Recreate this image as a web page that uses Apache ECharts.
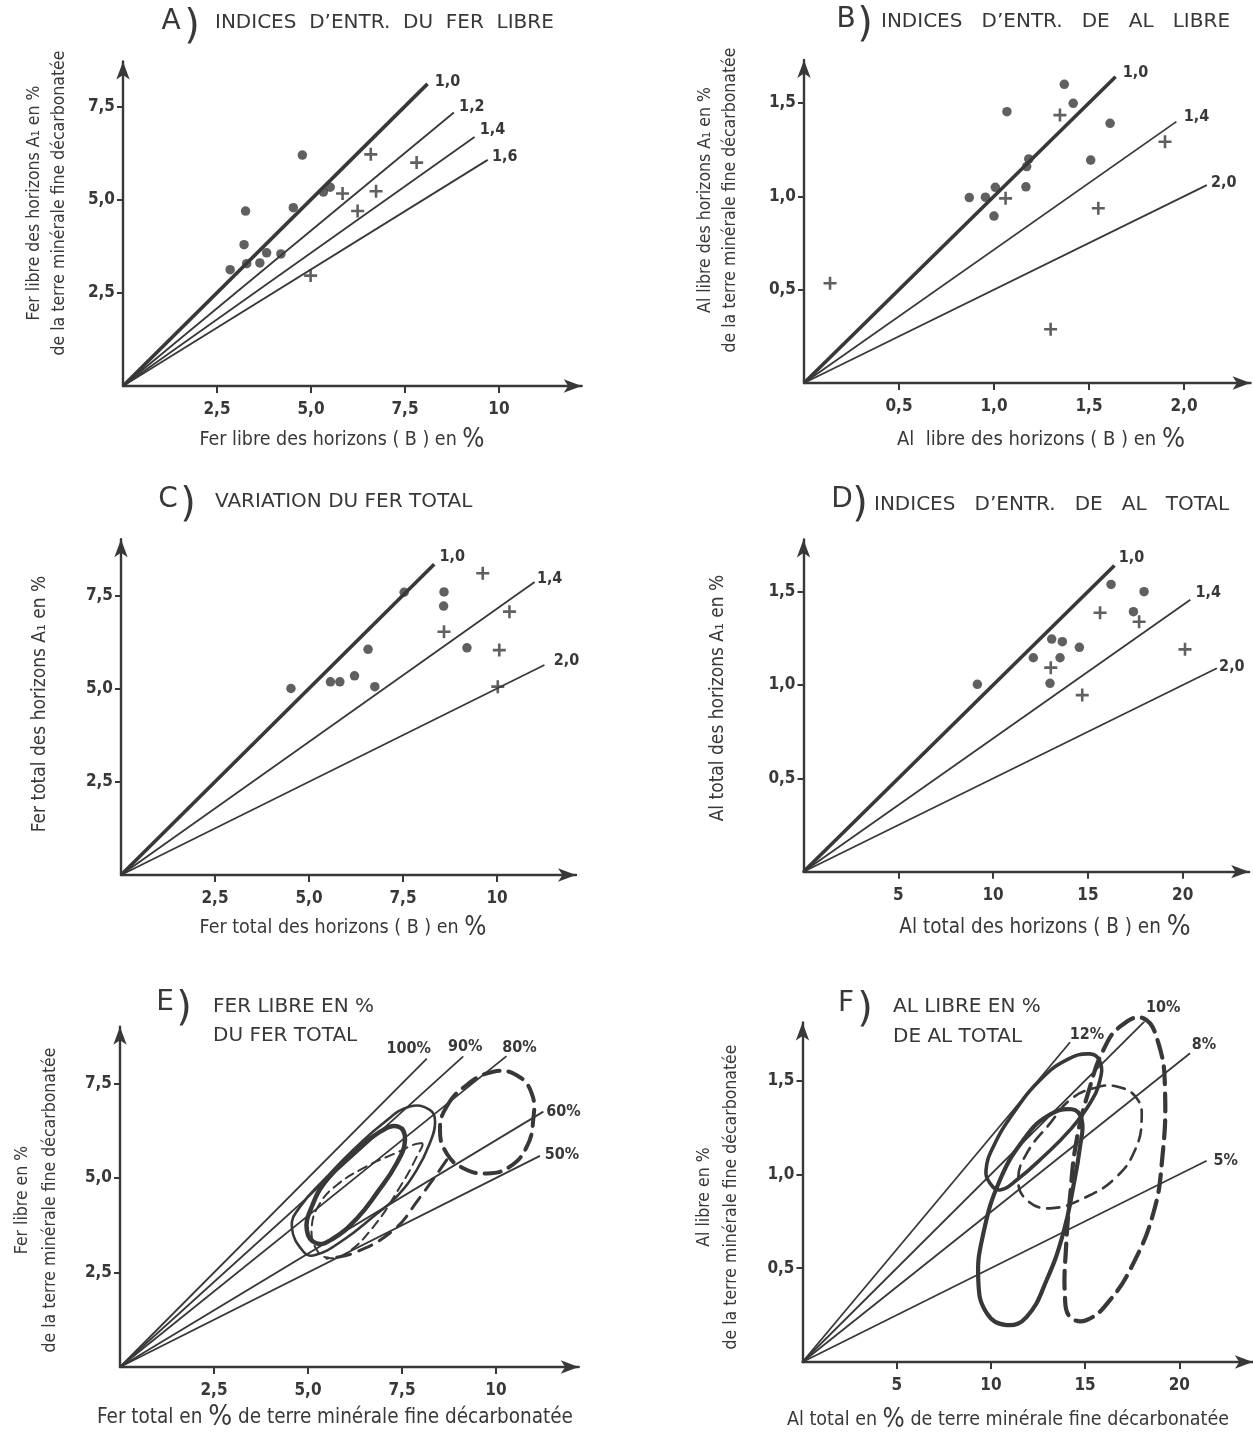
<!DOCTYPE html>
<html>
<head>
<meta charset="utf-8">
<title>Indices d'entraînement du fer et de l'aluminium</title>
<script src="https://cdn.jsdelivr.net/npm/echarts@6/dist/echarts.min.js"></script>
<style>
  html, body { margin: 0; padding: 0; background: #ffffff; }
  #chart { width: 1253px; height: 1435px; }
</style>
</head>
<body>
<div id="chart"></div>
<script>
// ---------- A) free iron: horizon (B) vs horizon A1 ----------
const A_dots = [[2.85,3.12],[3.22,3.79],[3.26,4.69],[3.29,3.28],[3.64,3.30],[3.82,3.57],[4.20,3.54],[4.53,4.78],[4.77,6.19],[5.33,5.20],[5.51,5.33]];
const A_crosses = [[5.84,5.16],[6.59,6.21],[6.73,5.22],[6.24,4.69],[7.81,5.99],[4.99,2.96]];
const A_indices = [1.0, 1.2, 1.4, 1.6];
const A_indexLabels = ['1,0', '1,2', '1,4', '1,6'];
const A_lineEndX = [8.1, 8.8, 9.35, 9.7];

// ---------- B) free aluminium ----------
const B_dots = [[0.870,0.993],[0.955,0.995],[1.007,1.048],[1.000,0.894],[1.068,1.453],[1.168,1.051],[1.183,1.200],[1.172,1.159],[1.370,1.600],[1.417,1.498],[1.509,1.194],[1.611,1.391]];
const B_crosses = [[1.347,1.435],[1.061,0.989],[1.549,0.936],[1.900,1.292],[0.137,0.534],[1.298,0.288]];
const B_indices = [1.0, 1.4, 2.0];
const B_indexLabels = ['1,0', '1,4', '2,0'];
const B_lineEndX = [1.64, 1.96, 2.12];

// ---------- C) total iron ----------
const C_dots = [[4.52,5.00],[5.57,5.18],[5.82,5.18],[6.21,5.34],[6.57,6.05],[6.75,5.05],[7.53,7.58],[8.59,7.59],[8.58,7.21],[9.20,6.09]];
const C_crosses = [[9.62,8.09],[8.59,6.52],[10.33,7.06],[10.06,6.03],[10.02,5.05]];
const C_indices = [1.0, 1.4, 2.0];
const C_indexLabels = ['1,0', '1,4', '2,0'];
const C_lineEndX = [8.33, 11.0, 11.26];

// ---------- D) total aluminium ----------
const D_dots = [[9.17,1.004],[12.12,1.146],[13.09,1.246],[13.65,1.232],[13.53,1.146],[13.00,1.009],[14.55,1.202],[16.22,1.539],[17.40,1.393],[17.96,1.500]];
const D_crosses = [[13.04,1.093],[15.64,1.387],[17.70,1.339],[14.70,0.946],[20.12,1.191]];
const D_indices = [1.0, 1.4, 2.0];
const D_indexLabels = ['1,0', '1,4', '2,0'];
const D_lineEndX = [16.4, 20.4, 21.8];

// ---------- E) free iron as % of total iron ----------
const E_percents = [100, 90, 80, 60, 50];
const E_percentLabels = ['100%', '90%', '80%', '60%', '50%'];
const E_lineEndX = [8.16, 9.13, 10.28, 11.26, 11.17];
const E_solidThick = [[7.40,6.36],[7.58,6.01],[7.36,5.39],[6.83,4.60],[6.30,3.93],[5.67,3.40],[5.23,3.27],[4.97,3.62],[5.10,4.24],[5.50,4.95],[6.20,5.65],[6.91,6.22]];
const E_solidThin = [[7.71,6.89],[8.24,6.80],[8.38,6.49],[8.24,5.92],[7.89,5.21],[7.36,4.51],[6.74,3.98],[5.94,3.36],[5.19,2.96],[4.88,3.05],[4.57,3.71],[4.79,4.24],[5.50,5.03],[6.20,5.74],[7.00,6.45]];
const E_dashedInner = [[8.02,5.92],[7.27,5.63],[6.47,5.26],[5.76,4.81],[5.32,4.33],[5.10,3.71],[5.23,3.10],[5.59,2.88],[6.03,3.01],[6.74,3.71],[7.45,4.77],[7.89,5.56]];
const E_dashedRing = [[8.69,6.89],[9.22,7.46],[9.93,7.81],[10.55,7.72],[10.95,7.24],[10.99,6.53],[10.82,5.83],[10.37,5.30],[9.75,5.12],[9.13,5.26],[8.69,5.65],[8.51,6.27]];
const E_dashedTail = [[8.69,5.48],[7.95,4.45],[7.27,3.62],[6.20,3.01],[5.50,2.88]];

// ---------- F) free aluminium as % of total aluminium ----------
const F_percents = [12, 10, 8, 5];
const F_percentLabels = ['12%', '10%', '8%', '5%'];
const F_lineEndX = [14.2, 18.35, 20.57, 21.45];
const F_solidUpper = [[9.74,1.023],[10.13,1.148],[11.19,1.326],[12.61,1.503],[14.02,1.610],[15.26,1.642],[15.79,1.601],[15.79,1.503],[15.26,1.379],[14.20,1.237],[12.78,1.094],[11.37,0.970],[10.48,0.917],[9.95,0.953]];
const F_solidLower = [[14.29,1.347],[14.82,1.290],[14.73,1.148],[14.37,0.934],[13.84,0.686],[12.96,0.437],[11.90,0.241],[10.84,0.197],[9.78,0.260],[9.33,0.437],[9.60,0.686],[10.48,0.970],[11.72,1.183],[12.96,1.308]];
const F_dashedMid = [[15.44,1.459],[16.68,1.468],[17.74,1.406],[18.00,1.290],[17.65,1.130],[16.68,0.988],[15.09,0.881],[13.14,0.819],[11.90,0.864],[11.45,0.970],[11.90,1.112],[13.14,1.272],[14.20,1.397]];
const F_dashedTall = [[18.09,1.832],[18.89,1.699],[19.24,1.450],[19.07,1.059],[18.62,0.793],[17.56,0.526],[16.32,0.330],[15.09,0.224],[14.20,0.241],[13.93,0.348],[13.99,0.615],[14.20,0.881],[14.55,1.183],[15.26,1.468],[15.97,1.663],[16.85,1.787]];

// ---------- tick values and labels ----------
const ticksFer = [2.5, 5, 7.5, 10];
const labelsFerX = ['2,5', '5,0', '7,5', '10'];
const ticksFerY = [2.5, 5, 7.5];
const labelsFerY = ['2,5', '5,0', '7,5'];
const ticksAlLibreX = [0.5, 1, 1.5, 2];
const labelsAlLibreX = ['0,5', '1,0', '1,5', '2,0'];
const ticksAlY = [0.5, 1, 1.5];
const labelsAlY = ['0,5', '1,0', '1,5'];
const ticksAlTotalX = [5, 10, 15, 20];
const labelsAlTotalX = ['5', '10', '15', '20'];

// ---------- drawing ----------
const INK = '#383838';
const FONT = 'DejaVu Sans Condensed';
const TITLE_FONT = 'DejaVu Sans';

// slope of each reference line through the origin
const byIndex = r => 1 / r;
const byIndexTenth = r => 1 / (10 * r);
const byPercent = p => p / 100;

const panels = [
  { box: [123, 61.5, 458.7, 324.5], xMax: 12.2, yMax: 8.7,
    xTicks: ticksFer, xLabels: labelsFerX, yTicks: ticksFerY, yLabels: labelsFerY,
    dots: A_dots, crosses: A_crosses, keys: A_indices, keyLabels: A_indexLabels, ends: A_lineEndX,
    slope: byIndex, boldFirst: true,
    labelOffsets: [[20,-2],[18,-6],[18,-7],[17,-3]] },
  { box: [804, 60, 446.5, 323], xMax: 2.35, yMax: 1.73,
    xTicks: ticksAlLibreX, xLabels: labelsAlLibreX, yTicks: ticksAlY, yLabels: labelsAlY,
    dots: B_dots, crosses: B_crosses, keys: B_indices, keyLabels: B_indexLabels, ends: B_lineEndX,
    slope: byIndex, boldFirst: true,
    labelOffsets: [[20,-4],[20,-5],[17,-2]] },
  { box: [121, 539.3, 455, 335.7], xMax: 12.1, yMax: 9.0,
    xTicks: ticksFer, xLabels: labelsFerX, yTicks: ticksFerY, yLabels: labelsFerY,
    dots: C_dots, crosses: C_crosses, keys: C_indices, keyLabels: C_indexLabels, ends: C_lineEndX,
    slope: byIndex, boldFirst: true,
    labelOffsets: [[18,-7],[15,-3],[22,-4]] },
  { box: [803.5, 539.4, 445.6, 332.3], xMax: 23.5, yMax: 1.78,
    xTicks: ticksAlTotalX, xLabels: labelsAlTotalX, yTicks: ticksAlY, yLabels: labelsAlY,
    dots: D_dots, crosses: D_crosses, keys: D_indices, keyLabels: D_indexLabels, ends: D_lineEndX,
    slope: byIndexTenth, boldFirst: true,
    labelOffsets: [[17,-8],[18,-7],[15,-1]] },
  { box: [120, 1026.8, 458.7, 340.2], xMax: 12.2, yMax: 9.0,
    xTicks: ticksFer, xLabels: labelsFerX, yTicks: ticksFerY, yLabels: labelsFerY,
    keys: E_percents, keyLabels: E_percentLabels, ends: E_lineEndX,
    slope: byPercent, boldFirst: false,
    labelOffsets: [[-18,-10],[2,-10],[13,-8],[20,0],[22,-1]],
    outlines: [
      { pts: E_solidThick, width: 4.5, dash: null, closed: true },
      { pts: E_solidThin, width: 2.6, dash: null, closed: true },
      { pts: E_dashedInner, width: 2, dash: [9, 6], closed: true },
      { pts: E_dashedRing, width: 4, dash: [16, 9], closed: true },
      { pts: E_dashedTail, width: 3, dash: [14, 9], closed: false }
    ] },
  { box: [802.5, 1022.4, 450.3, 339.6], xMax: 23.9, yMax: 1.81,
    xTicks: ticksAlTotalX, xLabels: labelsAlTotalX, yTicks: ticksAlY, yLabels: labelsAlY,
    keys: F_percents, keyLabels: F_percentLabels, ends: F_lineEndX,
    slope: byPercent, boldFirst: false,
    labelOffsets: [[17,-7],[15,-10],[14,-8],[19,0]],
    outlines: [
      { pts: F_solidUpper, width: 3.6, dash: null, closed: true },
      { pts: F_solidLower, width: 4.2, dash: null, closed: true },
      { pts: F_dashedMid, width: 2.6, dash: [12, 8], closed: true },
      { pts: F_dashedTall, width: 4.2, dash: [18, 9], closed: true }
    ] }
];

function tickFormatter(ticks, labels) {
  return v => {
    const k = ticks.findIndex(t => Math.abs(t - v) < 1e-6);
    return k < 0 ? '' : labels[k];
  };
}

const CROSS = 'path://M4,0H6V10H4Z M0,4H10V6H0Z';
const grids = [], xAxes = [], yAxes = [], series = [];

panels.forEach((p, i) => {
  grids.push({ left: p.box[0], top: p.box[1], width: p.box[2], height: p.box[3] });
  const axisLine = { onZero: false, symbol: ['none', 'arrow'], symbolSize: [10, 18],
                     lineStyle: { color: INK, width: 2.4 } };
  const tickLabel = { color: INK, fontFamily: FONT, fontSize: 17, fontWeight: 'bold' };
  xAxes.push({
    gridIndex: i, type: 'value', min: 0, max: p.xMax,
    axisLine: axisLine,
    axisTick: { show: true, customValues: p.xTicks, length: 7, lineStyle: { color: INK, width: 2 } },
    axisLabel: Object.assign({ customValues: p.xTicks, formatter: tickFormatter(p.xTicks, p.xLabels), margin: 15 }, tickLabel),
    splitLine: { show: false }
  });
  yAxes.push({
    gridIndex: i, type: 'value', min: 0, max: p.yMax,
    axisLine: axisLine,
    axisTick: { show: true, customValues: p.yTicks, length: 6, lineStyle: { color: INK, width: 2 } },
    axisLabel: Object.assign({ customValues: p.yTicks, formatter: tickFormatter(p.yTicks, p.yLabels), margin: 8 }, tickLabel),
    splitLine: { show: false }
  });

  // reference lines through the origin
  p.keys.forEach((k, j) => {
    const xe = p.ends[j];
    series.push({
      type: 'line', xAxisIndex: i, yAxisIndex: i, silent: true, animation: false,
      symbol: 'none', z: 2,
      data: [[0, 0], [xe, xe * p.slope(k)]],
      lineStyle: { color: INK, width: (p.boldFirst && j === 0) ? 3.6 : 1.8 },
      endLabel: { show: true, formatter: p.keyLabels[j], distance: 0,
                  offset: p.labelOffsets[j], align: 'center', verticalAlign: 'middle',
                  color: INK, fontFamily: FONT, fontSize: 16, fontWeight: 'bold' }
    });
  });

  if (p.dots) {
    series.push({ type: 'scatter', xAxisIndex: i, yAxisIndex: i, silent: true, animation: false,
                  symbol: 'circle', symbolSize: 9.5, itemStyle: { color: INK }, data: p.dots, z: 3 });
  }
  if (p.crosses) {
    series.push({ type: 'scatter', xAxisIndex: i, yAxisIndex: i, silent: true, animation: false,
                  symbol: CROSS, symbolSize: 13, itemStyle: { color: INK }, data: p.crosses, z: 3 });
  }

  // envelopes of the point clouds
  (p.outlines || []).forEach(o => {
    series.push({
      type: 'custom', xAxisIndex: i, yAxisIndex: i, silent: true, animation: false, z: 2,
      data: o.pts, encode: { x: 0, y: 1 },
      renderItem: (params, api) => {
        if (params.dataIndex !== 0) return null;
        const pts = o.pts.map(pt => api.coord(pt));
        return {
          type: o.closed ? 'polygon' : 'polyline',
          shape: { points: pts, smooth: 0.45 },
          style: { fill: 'none', stroke: INK, lineWidth: o.width, lineDash: o.dash || null,
                   lineCap: 'round', lineJoin: 'round' }
        };
      }
    });
  });
});

// ---------- titles and axis names ----------
function text(x, y, str, size, opts) {
  opts = opts || {};
  return {
    type: 'text', x: x, y: y, rotation: opts.rot || 0, silent: true,
    style: {
      text: str, fill: INK, fontSize: size, fontFamily: opts.family || FONT,
      fontWeight: opts.weight || 'normal',
      align: opts.align || 'center', verticalAlign: 'middle',
      lineHeight: opts.lh || Math.round(size * 1.6),
      rich: { p: { fontSize: Math.round(size * 1.35), fill: INK, fontFamily: FONT, fontWeight: opts.weight || 'normal' } }
    }
  };
}
const V = Math.PI / 2;
const T = { family: TITLE_FONT };
const TL = { family: TITLE_FONT, align: 'left' };

const graphics = [
  // panel letters
  text(171, 22, 'A', 28, T), text(192, 28, ')', 40, T),
  text(846, 20, 'B', 28, T), text(865, 26, ')', 40, T),
  text(168, 500, 'C', 28, T), text(188, 506, ')', 40, T),
  text(842, 500, 'D', 28, T), text(860, 506, ')', 40, T),
  text(165, 1003, 'E', 28, T), text(184, 1010, ')', 40, T),
  text(846, 1004, 'F', 28, T), text(865, 1011, ')', 40, T),

  // panel titles
  text(215, 23, "INDICES  D\u2019ENTR.  DU  FER  LIBRE", 20, TL),
  text(881, 22, "INDICES   D\u2019ENTR.   DE   AL   LIBRE", 20, TL),
  text(215, 502, 'VARIATION DU FER TOTAL', 20, TL),
  text(874, 505, "INDICES   D\u2019ENTR.   DE   AL   TOTAL", 20, TL),
  text(213, 1007, 'FER LIBRE EN %', 20, TL),
  text(213, 1036, 'DU FER TOTAL', 20, TL),
  text(893, 1007, 'AL LIBRE EN %', 20, TL),
  text(893, 1037, 'DE AL TOTAL', 20, TL),

  // x-axis names
  text(342, 440, 'Fer libre des horizons ( B ) en {p|%}', 19.5),
  text(1041, 440, 'Al  libre des horizons ( B ) en {p|%}', 20),
  text(343, 928, 'Fer total des horizons ( B ) en {p|%}', 19.5),
  text(1045, 928, 'Al total des horizons ( B ) en {p|%}', 20.5),
  text(335, 1418, 'Fer total en {p|%} de terre minérale fine décarbonatée', 20.5),
  text(1008, 1420, 'Al total en {p|%} de terre minérale fine décarbonatée', 19.5),

  // y-axis names
  text(47, 203, 'Fer libre des horizons A\u2081 en %\nde la terre minérale fine décarbonatée', 17.5, { rot: V, lh: 25 }),
  text(718, 200, 'Al libre des horizons A\u2081 en %\nde la terre minérale fine décarbonatée', 17.5, { rot: V, lh: 25 }),
  text(40, 704, 'Fer total des horizons A\u2081 en %', 19, { rot: V }),
  text(718, 698, 'Al total des horizons A\u2081 en %', 19, { rot: V }),
  text(36, 1200, 'Fer libre en %\nde la terre minérale fine décarbonatée', 17.5, { rot: V, lh: 28 }),
  text(718, 1197, 'Al libre en %\nde la terre minérale fine décarbonatée', 17.5, { rot: V, lh: 27 })
];

const chart = echarts.init(document.getElementById('chart'));
chart.setOption({
  backgroundColor: '#ffffff',
  animation: false,
  grid: grids,
  xAxis: xAxes,
  yAxis: yAxes,
  series: series,
  graphic: graphics
});
</script>
</body>
</html>
